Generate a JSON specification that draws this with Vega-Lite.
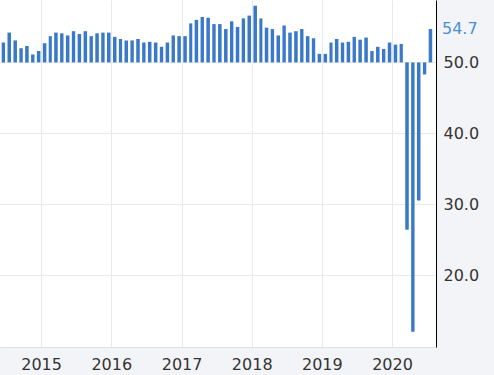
{
  "$schema": "https://vega.github.io/schema/vega-lite/v6.json",
  "width": 436,
  "height": 347,
  "autosize": {"type": "none"},
  "padding": {"left": 0, "top": 0, "right": 58, "bottom": 28},
  "background": "#f3f4f8",
  "config": {
    "view": {"fill": "white", "stroke": null},
    "font": "DejaVu Sans"
  },
  "data": {
    "values": [
      {"date": "2014-06", "v": 52.8}, {"date": "2014-07", "v": 54.2}, {"date": "2014-08", "v": 53.1},
      {"date": "2014-09", "v": 52.0}, {"date": "2014-10", "v": 52.3}, {"date": "2014-11", "v": 51.1},
      {"date": "2014-12", "v": 51.6},
      {"date": "2015-01", "v": 52.7}, {"date": "2015-02", "v": 53.7}, {"date": "2015-03", "v": 54.2},
      {"date": "2015-04", "v": 54.1}, {"date": "2015-05", "v": 53.8}, {"date": "2015-06", "v": 54.4},
      {"date": "2015-07", "v": 54.0}, {"date": "2015-08", "v": 54.4}, {"date": "2015-09", "v": 53.7},
      {"date": "2015-10", "v": 54.1}, {"date": "2015-11", "v": 54.2}, {"date": "2015-12", "v": 54.2},
      {"date": "2016-01", "v": 53.6}, {"date": "2016-02", "v": 53.3}, {"date": "2016-03", "v": 53.1},
      {"date": "2016-04", "v": 53.1}, {"date": "2016-05", "v": 53.3}, {"date": "2016-06", "v": 52.8},
      {"date": "2016-07", "v": 52.9}, {"date": "2016-08", "v": 52.8}, {"date": "2016-09", "v": 52.2},
      {"date": "2016-10", "v": 52.8}, {"date": "2016-11", "v": 53.8}, {"date": "2016-12", "v": 53.7},
      {"date": "2017-01", "v": 53.7}, {"date": "2017-02", "v": 55.5}, {"date": "2017-03", "v": 56.0},
      {"date": "2017-04", "v": 56.4}, {"date": "2017-05", "v": 56.3}, {"date": "2017-06", "v": 55.4},
      {"date": "2017-07", "v": 55.4}, {"date": "2017-08", "v": 54.7}, {"date": "2017-09", "v": 55.8},
      {"date": "2017-10", "v": 55.0}, {"date": "2017-11", "v": 56.2}, {"date": "2017-12", "v": 56.6},
      {"date": "2018-01", "v": 58.0}, {"date": "2018-02", "v": 56.2}, {"date": "2018-03", "v": 54.9},
      {"date": "2018-04", "v": 54.7}, {"date": "2018-05", "v": 53.8}, {"date": "2018-06", "v": 55.2},
      {"date": "2018-07", "v": 54.2}, {"date": "2018-08", "v": 54.4}, {"date": "2018-09", "v": 54.7},
      {"date": "2018-10", "v": 53.7}, {"date": "2018-11", "v": 53.4}, {"date": "2018-12", "v": 51.2},
      {"date": "2019-01", "v": 51.2}, {"date": "2019-02", "v": 52.8}, {"date": "2019-03", "v": 53.3},
      {"date": "2019-04", "v": 52.8}, {"date": "2019-05", "v": 52.9}, {"date": "2019-06", "v": 53.6},
      {"date": "2019-07", "v": 53.2}, {"date": "2019-08", "v": 53.5}, {"date": "2019-09", "v": 51.6},
      {"date": "2019-10", "v": 52.2}, {"date": "2019-11", "v": 51.9}, {"date": "2019-12", "v": 52.8},
      {"date": "2020-01", "v": 52.5}, {"date": "2020-02", "v": 52.6}, {"date": "2020-03", "v": 26.4},
      {"date": "2020-04", "v": 12.0}, {"date": "2020-05", "v": 30.5}, {"date": "2020-06", "v": 48.3},
      {"date": "2020-07", "v": 54.7}
    ]
  },
  "encoding": {
    "x": {
      "field": "date",
      "type": "temporal",
      "timeUnit": "utcyearmonth",
      "scale": {
        "type": "utc",
        "domain": [
          {"year": 2014, "month": 6, "date": 1, "utc": true},
          {"year": 2020, "month": 8, "date": 17, "utc": true}
        ]
      },
      "axis": {
        "title": null,
        "values": [
          {"year": 2015, "month": 1, "date": 1, "utc": true},
          {"year": 2016, "month": 1, "date": 1, "utc": true},
          {"year": 2017, "month": 1, "date": 1, "utc": true},
          {"year": 2018, "month": 1, "date": 1, "utc": true},
          {"year": 2019, "month": 1, "date": 1, "utc": true},
          {"year": 2020, "month": 1, "date": 1, "utc": true}
        ],
        "labelExpr": "utcFormat(datum.value, '%Y')",
        "labelOverlap": false,
        "grid": true,
        "gridColor": "#e6e9f0",
        "ticks": false,
        "domainColor": "#dde1e8",
        "labelFontSize": 16,
        "labelColor": "#333333",
        "labelPadding": 9,
        "labelFlush": false
      }
    },
    "y": {
      "field": "v",
      "type": "quantitative",
      "scale": {"domain": [9.85, 58.8], "nice": false, "zero": false},
      "axis": {
        "orient": "right",
        "title": null,
        "values": [20, 30, 40, 50],
        "format": ".1f",
        "grid": true,
        "gridColor": "#e6e9f0",
        "ticks": false,
        "domainColor": "#000000",
        "labelFontSize": 16,
        "labelColor": "#333333",
        "labelPadding": 7
      }
    }
  },
  "layer": [
    {
      "mark": {"type": "bar", "color": "#3a78c8", "width": {"band": 0.76}},
      "encoding": {
        "y2": {"datum": 50}
      }
    },
    {
      "transform": [{"filter": "utcyear(datum.date) == 2020 && utcmonth(datum.date) == 6"}],
      "mark": {"type": "text", "align": "left", "baseline": "middle", "dx": 15, "fontSize": 16, "color": "#4a8fdc"},
      "encoding": {
        "text": {"field": "v", "type": "quantitative", "format": ".1f"}
      }
    }
  ]
}
